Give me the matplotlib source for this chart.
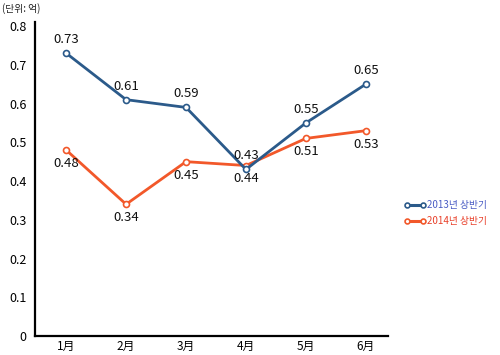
import matplotlib
matplotlib.use('Agg')
import matplotlib.pyplot as plt

plt.rcParams['font.family'] = ['Noto Sans CJK KR', 'DejaVu Sans']

months = ['1月', '2月', '3月', '4月', '5月', '6月']
sales_2013 = [0.73, 0.61, 0.59, 0.43, 0.55, 0.65]
sales_2014 = [0.48, 0.34, 0.45, 0.44, 0.51, 0.53]
yticks = [0, 0.1, 0.2, 0.3, 0.4, 0.5, 0.6, 0.7, 0.8]

C13 = '#2b5a8a'
C14 = '#f2582a'

fig = plt.figure(figsize=(5, 3.55), dpi=100)
ax = fig.add_axes([0.07, 0.0535, 0.706, 0.884])

x = list(range(len(months)))
ax.plot(x, sales_2013, '-o', color=C13, lw=2, ms=4.3, mfc='white', mew=1.2,
        label='2013년 상반기', zorder=3)
ax.plot(x, sales_2014, '-o', color=C14, lw=2, ms=4.3, mfc='white', mew=1.2,
        label='2014년 상반기', zorder=2)

for i, v in enumerate(sales_2013):
    ax.annotate(f'{v:.2f}', (i, v), xytext=(0, 5), textcoords='offset points',
                ha='center', va='bottom', fontsize=9.5, color='#111111')
for i, v in enumerate(sales_2014):
    ax.annotate(f'{v:.2f}', (i, v), xytext=(0, -5), textcoords='offset points',
                ha='center', va='top', fontsize=9.5, color='#111111')

ax.set_xlim(-0.52, 5.37)
ax.set_ylim(0, 0.81)
ax.set_xticks(x)
ax.set_xticklabels(months, fontsize=8.5)
ax.set_yticks(yticks)
ax.set_yticklabels([f'{t:g}' for t in yticks], fontsize=9)
ax.tick_params(length=0, pad=6)
ax.tick_params(axis='x', pad=3)
for s in ['top', 'right']:
    ax.spines[s].set_visible(False)
for s in ['left', 'bottom']:
    ax.spines[s].set_linewidth(1.6)
    ax.spines[s].set_color('black')

leg = ax.legend(loc='center left', bbox_to_anchor=(0.795, 0.4),
                bbox_transform=fig.transFigure, frameon=False, fontsize=7,
                numpoints=2, handlelength=2.2, handletextpad=0.1,
                labelspacing=0.6, borderpad=0.2)
for h in leg.get_lines():
    h.set_linewidth(2.2)
    h.set_markersize(3.5)
for t, c in zip(leg.get_texts(), ['#4a5cc4', '#e8402a']):
    t.set_color(c)

fig.text(0.005, 0.975, '(단위: 억)', fontsize=7, va='center', ha='left', color='#222222')

fig.savefig('out.png')
